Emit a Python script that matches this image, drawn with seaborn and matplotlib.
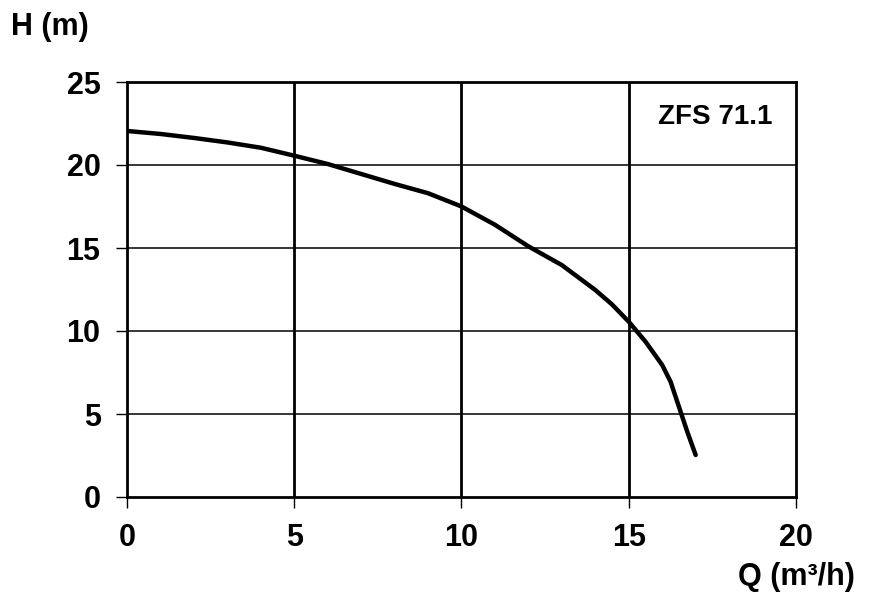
import numpy as np
import matplotlib
matplotlib.use("Agg")
import matplotlib.pyplot as plt
import seaborn as sns
import pandas as pd

# pump curve
flow = [0, 1, 2, 3, 4, 5, 6, 7, 8, 9, 10, 11, 12, 13, 14, 14.5, 15, 15.5,
        16, 16.25, 16.5, 16.75, 17]
head = [22.05, 21.87, 21.63, 21.36, 21.04, 20.56, 20.06, 19.46, 18.86, 18.3,
        17.5, 16.4, 15.1, 13.97, 12.47, 11.6, 10.56, 9.36, 7.95, 6.95, 5.44,
        3.93, 2.53]
x_ticks = [0, 5, 10, 15, 20]
y_ticks = [0, 5, 10, 15, 20, 25]
pump_name = "ZFS 71.1"

sns.set_style("white")
plt.rcParams['font.family'] = ['Liberation Sans', 'DejaVu Sans']
plt.rcParams['font.weight'] = 'bold'
plt.rcParams['text.color'] = 'black'
plt.rcParams['xtick.color'] = 'black'
plt.rcParams['ytick.color'] = 'black'

df = pd.DataFrame({'Q': flow, 'H': head})

fig = plt.figure(figsize=(8.7, 6.14), dpi=100)
ax = fig.add_axes([127 / 870, 1 - 497 / 614, (796 - 127) / 870, (497 - 82) / 614])

sns.lineplot(data=df, x='Q', y='H', ax=ax, color='black', linewidth=3.2,
             solid_capstyle='round', solid_joinstyle='round', zorder=3)

ax.set_xlim(0, 20)
ax.set_ylim(0, 25)
ax.set_xticks(x_ticks)
ax.set_yticks(y_ticks)

# vertical grid thicker than horizontal
for xv in x_ticks[1:-1]:
    ax.axvline(xv, color='black', linewidth=2, zorder=1)
for yv in y_ticks[1:-1]:
    ax.axhline(yv, color='black', linewidth=1.1, zorder=1)

for side in ['left', 'bottom', 'top', 'right']:
    ax.spines[side].set_visible(True)
    ax.spines[side].set_color('black')
    ax.spines[side].set_linewidth(2)

ax.tick_params(axis='both', direction='out', length=8, width=1, color='black',
               labelcolor='black', labelsize=22, pad=11, bottom=True, left=True)
for lbl in ax.get_xticklabels() + ax.get_yticklabels():
    lbl.set_fontweight('bold')

ax.set_xlabel('')
ax.set_ylabel('')

fig.text(11 / 870, 1 - 27 / 614, 'H (m)', fontsize=22, fontweight='bold',
         color='black', ha='left', va='center')
fig.text(855 / 870, 1 - 577 / 614, 'Q (m³/h)', fontsize=22, fontweight='bold',
         color='black', ha='right', va='center')
ax.text(0.964, 0.915, pump_name, transform=ax.transAxes, fontsize=20,
        fontweight='bold', color='black', ha='right', va='center')

fig.savefig('out.png', dpi=100)
